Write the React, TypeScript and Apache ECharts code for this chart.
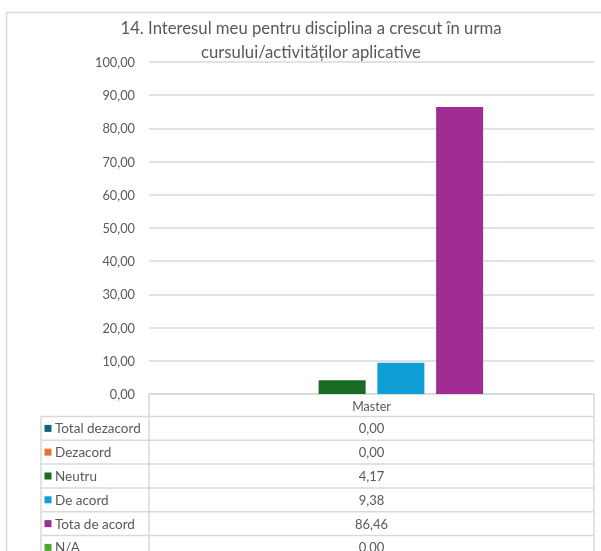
import React, { useEffect, useRef } from "react";
import * as echarts from "echarts";

const categories = ["Master"];
const seriesNames = ["Total dezacord", "Dezacord", "Neutru", "De acord", "Tota de acord", "N/A"];
const seriesValues = [0.0, 0.0, 4.17, 9.38, 86.46, 0.0];
const seriesColors = ["#156082", "#E97132", "#196B24", "#0F9ED5", "#A02B93", "#4EA72E"];
const titleLines = ["14. Interesul meu pentru disciplina a crescut în urma", "cursului/activităților aplicative"];

const fmt = (v: number) => v.toFixed(2).replace(".", ",");

const FONT = "Lato, 'Noto Sans', sans-serif";
const GRAY = "#595959";
const LINE = "#d9d9d9";

export default function App() {
  const ref = useRef<HTMLDivElement>(null);
  useEffect(() => {
    if (!ref.current) return;
    const chart = echarts.init(ref.current, undefined, { renderer: "svg" });

    const gridLeft = 149;
    const gridRight = 594;
    const axisY = 394;
    const headerBottom = 416.5;
    const rowH = 23.8;
    const tableLeft = 41;
    const centerX = (gridLeft + gridRight) / 2;

    const graphics: any[] = [];
    graphics.push({
      type: "rect",
      shape: { x: 6.5, y: 12.5, width: 800, height: 800 },
      style: { fill: "none", stroke: LINE, lineWidth: 1.5 },
      silent: true,
    });
    titleLines.forEach((t, i) => {
      graphics.push({
        type: "text",
        x: 311,
        y: 28 + i * 24,
        style: {
          text: t,
          fill: GRAY,
          font: `16.7px ${FONT}`,
          textAlign: "center",
          textVerticalAlign: "middle",
        },
      });
    });
    graphics.push({ type: "line", shape: { x1: gridLeft, y1: axisY, x2: gridLeft, y2: 560 }, style: { stroke: LINE, lineWidth: 1.5 } });
    graphics.push({ type: "line", shape: { x1: gridRight, y1: axisY, x2: gridRight, y2: 560 }, style: { stroke: LINE, lineWidth: 1.5 } });
    graphics.push({ type: "line", shape: { x1: tableLeft, y1: headerBottom, x2: tableLeft, y2: 560 }, style: { stroke: LINE, lineWidth: 1.5 } });
    graphics.push({ type: "line", shape: { x1: gridLeft, y1: axisY, x2: gridRight, y2: axisY }, style: { stroke: LINE, lineWidth: 1.5 } });
    for (let k = 0; k <= seriesNames.length; k++) {
      const y = headerBottom + k * rowH;
      graphics.push({ type: "line", shape: { x1: tableLeft, y1: y, x2: gridRight, y2: y }, style: { stroke: LINE, lineWidth: 1.5 } });
    }
    seriesNames.forEach((name, i) => {
      const cy = headerBottom + rowH * (i + 0.5);
      graphics.push({
        type: "rect",
        shape: { x: 44.5, y: cy - 3.5, width: 7, height: 7 },
        style: { fill: seriesColors[i] },
      });
      graphics.push({
        type: "text",
        x: 55,
        y: cy,
        style: { text: name, fill: GRAY, font: `13.5px ${FONT}`, textAlign: "left", textVerticalAlign: "middle" },
      });
      graphics.push({
        type: "text",
        x: centerX,
        y: cy,
        style: { text: fmt(seriesValues[i]), fill: GRAY, font: `13px ${FONT}`, textAlign: "center", textVerticalAlign: "middle" },
      });
    });

    chart.setOption({
      animation: false,
      grid: { left: gridLeft, right: 601 - gridRight, top: 62, bottom: 551 - axisY, containLabel: false },
      xAxis: {
        type: "category",
        data: categories,
        axisLine: { show: false },
        axisTick: { show: false },
        axisLabel: { color: GRAY, fontFamily: FONT, fontSize: 12.5, margin: 6 },
      },
      yAxis: {
        type: "value",
        min: 0,
        max: 100,
        interval: 10,
        axisLabel: { color: GRAY, fontFamily: FONT, fontSize: 12.8, margin: 14, formatter: (v: number) => fmt(v) },
        splitLine: { lineStyle: { color: LINE, width: 1.5 } },
        axisLine: { show: false },
        axisTick: { show: false },
      },
      series: seriesNames.map((name, i) => ({
        name,
        type: "bar",
        data: [seriesValues[i]],
        barWidth: 47,
        barGap: "25%",
        itemStyle: { color: seriesColors[i] },
      })),
      graphic: graphics,
    });
    return () => chart.dispose();
  }, []);
  return <div ref={ref} style={{ position: "fixed", left: 0, top: 0, width: 601, height: 551 }} />;
}
